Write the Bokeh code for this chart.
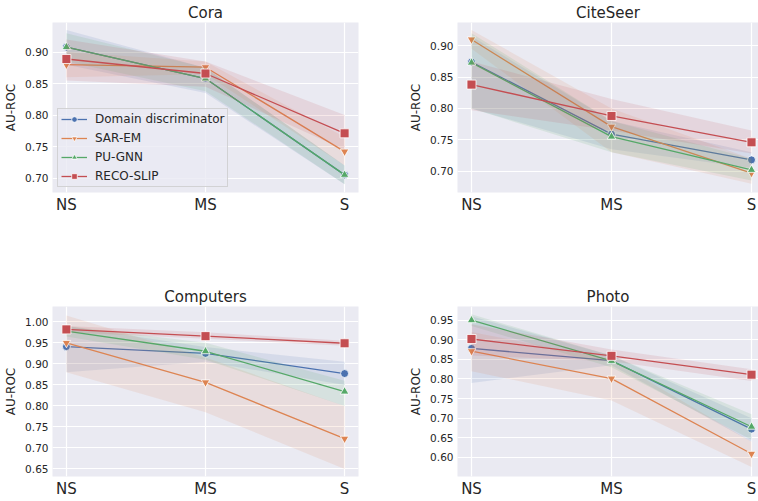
from bokeh.plotting import figure
from bokeh.layouts import column, row
from bokeh.models import FixedTicker, Range1d, Legend, LegendItem
from bokeh.embed import file_html
from bokeh.resources import INLINE

categories = ["NS", "MS", "S"]
x_pos = [0, 1, 2]
methods = ["Domain discriminator", "SAR-EM", "PU-GNN", "RECO-SLIP"]
colors = ["#4C72B0", "#DD8452", "#55A868", "#C44E52"]
markers = ["circle", "inverted_triangle", "triangle", "square"]

# Cora
cora_mean = [[0.908, 0.858, 0.705], [0.880, 0.876, 0.742], [0.908, 0.858, 0.705], [0.889, 0.866, 0.771]]
cora_lo = [[0.880, 0.835, 0.690], [0.860, 0.865, 0.720], [0.885, 0.838, 0.690], [0.855, 0.845, 0.745]]
cora_hi = [[0.935, 0.875, 0.720], [0.900, 0.885, 0.765], [0.930, 0.875, 0.720], [0.920, 0.885, 0.800]]
cora_ticks = [0.70, 0.75, 0.80, 0.85, 0.90]

# CiteSeer
cite_mean = [[0.874, 0.759, 0.718], [0.910, 0.771, 0.697], [0.873, 0.755, 0.702], [0.838, 0.788, 0.746]]
cite_lo = [[0.800, 0.735, 0.705], [0.895, 0.730, 0.680], [0.800, 0.730, 0.685], [0.797, 0.765, 0.728]]
cite_hi = [[0.915, 0.780, 0.730], [0.925, 0.800, 0.720], [0.920, 0.780, 0.720], [0.875, 0.815, 0.765]]
cite_ticks = [0.70, 0.75, 0.80, 0.85, 0.90]

# Computers
comp_mean = [[0.941, 0.925, 0.877], [0.950, 0.856, 0.722], [0.978, 0.930, 0.834], [0.982, 0.966, 0.949]]
comp_lo = [[0.880, 0.905, 0.850], [0.880, 0.785, 0.650], [0.965, 0.910, 0.800], [0.975, 0.960, 0.943]]
comp_hi = [[0.990, 0.940, 0.905], [1.015, 0.915, 0.800], [0.990, 0.950, 0.860], [0.990, 0.975, 0.955]]
comp_ticks = [0.65, 0.70, 0.75, 0.80, 0.85, 0.90, 0.95, 1.00]

# Photo
photo_mean = [[0.878, 0.847, 0.672], [0.871, 0.801, 0.609], [0.950, 0.846, 0.678], [0.902, 0.859, 0.811]]
photo_lo = [[0.790, 0.835, 0.640], [0.820, 0.745, 0.575], [0.935, 0.830, 0.645], [0.860, 0.845, 0.795]]
photo_hi = [[0.960, 0.860, 0.700], [0.920, 0.850, 0.640], [0.965, 0.860, 0.710], [0.940, 0.875, 0.825]]
photo_ticks = [0.60, 0.65, 0.70, 0.75, 0.80, 0.85, 0.90, 0.95]

TXT = "#262626"
FONT = "DejaVu Sans"


def make_panel(title, mean, lo, hi, ticks, yr, xr, width, height, borders, legend=False):
    bl, br, bt, bb = borders
    p = figure(width=width, height=height, output_backend="svg", toolbar_location=None,
               x_range=Range1d(*xr), y_range=Range1d(*yr),
               min_border_left=bl, min_border_right=br, min_border_top=bt, min_border_bottom=bb)
    p.title.text = title
    p.title.align = "center"
    p.title.text_font = FONT
    p.title.text_font_size = "15px"
    p.title.text_font_style = "normal"
    p.title.text_color = TXT
    p.title.standoff = 2
    p.background_fill_color = "#EAEAF2"
    p.border_fill_color = "white"
    p.outline_line_color = None
    p.grid.grid_line_color = "white"
    p.grid.grid_line_width = 1.2
    p.xaxis.ticker = FixedTicker(ticks=x_pos)
    p.xaxis.major_label_overrides = {i: c for i, c in zip(x_pos, categories)}
    p.yaxis.ticker = FixedTicker(ticks=ticks)
    p.yaxis.major_label_overrides = {t: f"{t:.2f}" for t in ticks}
    p.yaxis.axis_label = "AU-ROC"
    for ax in (p.xaxis, p.yaxis):
        ax.axis_line_color = None
        ax.major_tick_line_color = None
        ax.minor_tick_line_color = None
        ax.major_tick_in = 0
        ax.major_tick_out = 0
        ax.major_label_text_color = TXT
        ax.major_label_text_font = FONT
    p.xaxis.major_label_text_font_size = "15px"
    p.xaxis.major_label_standoff = 3
    p.yaxis.major_label_text_font_size = "10.5px"
    p.yaxis.major_label_standoff = 4
    p.yaxis.axis_label_text_font = FONT
    p.yaxis.axis_label_text_font_size = "12px"
    p.yaxis.axis_label_text_font_style = "normal"
    p.yaxis.axis_label_text_color = TXT
    p.yaxis.axis_label_standoff = 4

    items = []
    for i in range(len(methods)):
        p.varea(x=x_pos, y1=lo[i], y2=hi[i], fill_color=colors[i], fill_alpha=0.13)
        ln = p.line(x_pos, mean[i], line_color=colors[i], line_width=1.3)
        sz = 8 if markers[i] == "circle" else (9 if markers[i] == "square" else 8.5)
        sc = p.scatter(x_pos, mean[i], marker=markers[i], size=sz, fill_color=colors[i],
                       line_color="white", line_width=0.8)
        items.append(LegendItem(label=methods[i], renderers=[ln, sc]))
    if legend:
        lg = Legend(items=items, location="bottom_left")
        lg.background_fill_color = "#EAEAF2"
        lg.background_fill_alpha = 0.8
        lg.border_line_color = "#CCCCCC"
        lg.border_line_alpha = 0.8
        lg.label_text_font = FONT
        lg.label_text_font_size = "12px"
        lg.label_text_color = TXT
        lg.glyph_height = 14
        lg.glyph_width = 26
        lg.label_height = 14
        lg.spacing = 5
        lg.padding = 3
        lg.margin = 5
        lg.label_standoff = 8
        p.add_layout(lg, "center")
    return p


XL = (-0.1, 2.1)
XR = (-0.1, 2.05)
p1 = make_panel("Cora", cora_mean, cora_lo, cora_hi, cora_ticks, (0.677, 0.947), XL,
                400, 250, (52, 42, 18, 58), legend=True)
p2 = make_panel("CiteSeer", cite_mean, cite_lo, cite_hi, cite_ticks, (0.666, 0.937), XR,
                358, 250, (57, 0, 18, 58))
p3 = make_panel("Computers", comp_mean, comp_lo, comp_hi, comp_ticks, (0.632, 1.0365), XL,
                400, 250, (52, 42, 56, 20))
p4 = make_panel("Photo", photo_mean, photo_lo, photo_hi, photo_ticks, (0.551, 0.985), XR,
                358, 250, (57, 0, 56, 20))

layout = column(row(p1, p2, spacing=0), row(p3, p4, spacing=0), spacing=0)
open("out.html", "w").write(file_html(layout, INLINE))
